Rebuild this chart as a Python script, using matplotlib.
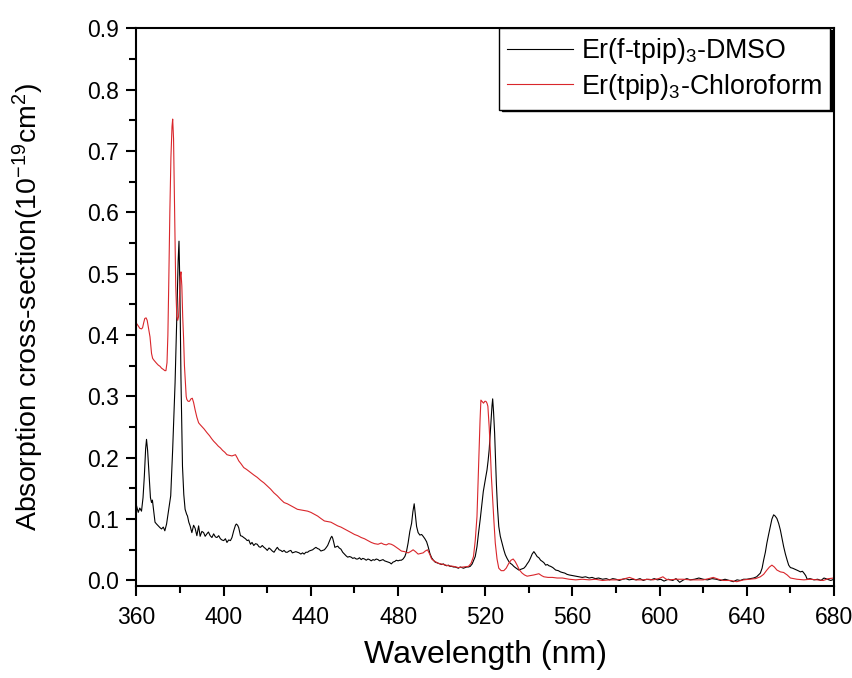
import matplotlib
matplotlib.use("Agg")
import matplotlib.pyplot as plt
from matplotlib.ticker import MultipleLocator

plt.rcParams['font.family'] = ['Liberation Sans', 'DejaVu Sans']
plt.rcParams['mathtext.fontset'] = 'custom'
plt.rcParams['mathtext.rm'] = 'Liberation Sans'
plt.rcParams['mathtext.it'] = 'Liberation Sans:italic'

# ---------------- data ----------------
wl_dmso = [360.0, 360.8, 361.5, 362.3, 363.0, 363.6, 364.2, 364.6, 365.1, 365.8, 366.4, 366.9, 367.3, 367.7,
           368.5, 369.2, 370.0, 370.8, 371.5, 372.3, 373.0, 373.8, 374.6, 375.7, 376.6, 377.7, 378.5, 379.1,
           379.5, 379.9, 380.4, 381.1, 381.7, 382.3, 383.0, 383.4, 384.0, 384.6, 385.4, 386.2, 386.9, 387.7,
           388.5, 389.2, 390.0, 390.8, 391.5, 392.3, 393.0, 393.8, 394.6, 395.4, 396.2, 396.9, 397.7, 398.5,
           399.2, 400.0, 400.8, 401.5, 402.3, 403.1, 403.8, 404.6, 405.4, 405.8, 406.4, 406.9, 407.7, 408.5,
           409.2, 410.0, 410.8, 411.5, 412.3, 413.0, 413.8, 414.6, 415.4, 416.2, 416.9, 417.7, 418.5, 419.2,
           420.0, 420.8, 421.5, 422.3, 423.1, 423.8, 424.6, 425.4, 426.2, 426.9, 427.7, 428.5, 429.2, 430.0,
           430.8, 431.5, 432.3, 433.1, 433.8, 434.6, 435.4, 436.2, 436.9, 437.7, 438.5, 439.2, 440.0, 440.8,
           441.5, 442.3, 443.1, 443.8, 444.6, 445.4, 446.2, 446.9, 447.7, 448.5, 449.2, 449.6, 450.0, 450.5,
           451.0, 451.6, 452.3, 453.0, 453.8, 454.6, 455.4, 456.2, 456.9, 457.7, 458.5, 459.2, 460.0, 460.8,
           461.5, 462.3, 463.1, 463.8, 464.6, 465.4, 466.2, 466.9, 467.7, 468.5, 469.2, 470.0, 470.8, 471.5,
           472.3, 473.1, 473.8, 474.6, 475.4, 476.2, 476.9, 477.7, 478.5, 479.2, 480.0, 480.8, 481.5, 482.3,
           483.1, 483.8, 484.6, 485.4, 486.2, 486.8, 487.4, 487.9, 488.5, 489.2, 490.0, 490.8, 491.5, 492.3,
           493.1, 493.8, 494.6, 495.4, 496.2, 497.0, 497.7, 498.5, 499.2, 500.0, 500.8, 501.5, 502.3, 503.1,
           503.8, 504.6, 505.4, 506.2, 506.9, 507.7, 508.5, 509.2, 510.0, 510.8, 511.5, 512.3, 513.1, 514.0,
           514.6, 515.4, 516.2, 516.9, 517.7, 518.5, 519.1, 519.7, 520.3, 520.8, 521.3, 521.8, 522.3, 522.8,
           523.1, 523.4, 523.8, 524.3, 524.7, 525.1, 525.6, 526.2, 526.9, 527.7, 528.5, 529.2, 530.0, 530.8,
           531.5, 532.3, 533.1, 533.8, 534.6, 535.4, 536.2, 536.9, 537.7, 538.5, 539.2, 540.0, 540.8, 541.5,
           542.3, 543.1, 543.8, 544.6, 545.4, 546.2, 546.9, 547.7, 548.5, 549.2, 550.0, 551.0, 552.3, 553.5,
           554.5, 555.4, 556.5, 557.5, 558.5, 560.0, 561.5, 563.1, 564.5, 566.0, 567.7, 569.0, 570.5, 572.0,
           573.8, 575.5, 577.0, 578.5, 580.0, 581.5, 583.0, 584.5, 586.0, 587.5, 589.2, 591.0, 592.5, 594.0,
           596.0, 597.5, 599.0, 600.5, 602.0, 604.0, 606.0, 607.5, 609.2, 611.0, 612.5, 614.0, 616.0, 618.0,
           620.0, 622.0, 624.0, 626.0, 628.0, 630.0, 632.0, 633.8, 635.5, 637.0, 638.5, 640.0, 641.5, 643.1,
           644.5, 646.2, 647.0, 647.7, 648.5, 649.2, 650.0, 650.8, 651.5, 652.3, 653.0, 653.8, 654.6, 655.4,
           656.2, 656.9, 657.7, 658.5, 659.2, 660.0, 661.0, 662.3, 663.5, 664.6, 665.5, 666.2, 667.0, 667.7,
           669.0, 670.8, 672.5, 674.0, 675.4, 677.0, 678.5, 680.0]
ab_dmso = [0.122, 0.111, 0.118, 0.113, 0.135, 0.170, 0.215, 0.230, 0.212, 0.170, 0.135, 0.127, 0.131, 0.119,
           0.095, 0.092, 0.089, 0.086, 0.084, 0.087, 0.081, 0.092, 0.111, 0.138, 0.214, 0.322, 0.430, 0.520,
           0.553, 0.480, 0.330, 0.186, 0.140, 0.116, 0.108, 0.105, 0.095, 0.089, 0.078, 0.090, 0.085, 0.073,
           0.089, 0.072, 0.080, 0.078, 0.072, 0.076, 0.079, 0.073, 0.070, 0.076, 0.071, 0.070, 0.073, 0.068,
           0.066, 0.065, 0.068, 0.062, 0.066, 0.065, 0.070, 0.081, 0.090, 0.092, 0.090, 0.086, 0.073, 0.072,
           0.070, 0.068, 0.065, 0.066, 0.059, 0.062, 0.057, 0.060, 0.059, 0.055, 0.054, 0.057, 0.054, 0.052,
           0.049, 0.053, 0.051, 0.048, 0.046, 0.050, 0.054, 0.050, 0.049, 0.047, 0.049, 0.046, 0.046, 0.048,
           0.049, 0.045, 0.046, 0.047, 0.046, 0.045, 0.043, 0.045, 0.043, 0.046, 0.046, 0.048, 0.049, 0.050,
           0.052, 0.054, 0.052, 0.051, 0.048, 0.049, 0.050, 0.053, 0.057, 0.064, 0.070, 0.072, 0.069, 0.062,
           0.054, 0.055, 0.056, 0.053, 0.051, 0.046, 0.043, 0.040, 0.038, 0.039, 0.038, 0.036, 0.037, 0.035,
           0.035, 0.037, 0.034, 0.036, 0.035, 0.033, 0.035, 0.034, 0.032, 0.034, 0.033, 0.035, 0.034, 0.032,
           0.033, 0.034, 0.032, 0.031, 0.030, 0.029, 0.027, 0.030, 0.031, 0.033, 0.032, 0.033, 0.033, 0.035,
           0.039, 0.046, 0.061, 0.080, 0.093, 0.112, 0.125, 0.108, 0.088, 0.078, 0.074, 0.075, 0.072, 0.068,
           0.063, 0.055, 0.044, 0.037, 0.033, 0.030, 0.029, 0.028, 0.027, 0.026, 0.027, 0.025, 0.024, 0.025,
           0.023, 0.023, 0.022, 0.022, 0.021, 0.020, 0.022, 0.021, 0.020, 0.021, 0.022, 0.022, 0.023, 0.027,
           0.032, 0.039, 0.055, 0.077, 0.100, 0.126, 0.145, 0.158, 0.170, 0.180, 0.195, 0.213, 0.240, 0.267,
           0.285, 0.296, 0.275, 0.240, 0.200, 0.158, 0.120, 0.088, 0.072, 0.061, 0.050, 0.042, 0.036, 0.031,
           0.028, 0.026, 0.023, 0.021, 0.019, 0.017, 0.018, 0.019, 0.020, 0.023, 0.027, 0.031, 0.037, 0.043,
           0.047, 0.043, 0.039, 0.037, 0.033, 0.031, 0.029, 0.025, 0.026, 0.024, 0.023, 0.021, 0.017, 0.016,
           0.014, 0.013, 0.012, 0.010, 0.009, 0.008, 0.007, 0.006, 0.005, 0.006, 0.004, 0.005, 0.003, 0.004,
           0.002, 0.003, 0.001, 0.003, 0.002, 0.000, 0.002, 0.003, 0.001, 0.002, 0.001, 0.003, 0.000, 0.002,
           0.001, 0.003, 0.001, 0.002, -0.001, 0.002, 0.000, 0.003, -0.003, 0.001, 0.003, 0.001, 0.002, 0.004,
           0.002, 0.001, 0.003, 0.002, 0.000, 0.002, 0.000, -0.002, 0.001, 0.000, 0.002, 0.002, 0.003, 0.004,
           0.006, 0.012, 0.020, 0.033, 0.046, 0.061, 0.075, 0.088, 0.100, 0.107, 0.105, 0.101, 0.093, 0.082,
           0.068, 0.055, 0.043, 0.033, 0.025, 0.021, 0.020, 0.018, 0.016, 0.014, 0.015, 0.012, 0.008, 0.002,
           0.003, 0.001, 0.002, 0.000, 0.004, 0.002, 0.000, 0.002]

wl_chcl3 = [360.0, 360.8, 361.5, 362.3, 362.8, 363.3, 363.8, 364.4, 364.9, 365.5, 366.2, 366.9, 367.4, 368.0,
            369.2, 370.0, 370.8, 371.5, 372.3, 373.0, 373.5, 374.0, 374.4, 374.8, 375.3, 375.8, 376.3, 376.6,
            377.0, 377.5, 378.0, 378.5, 378.9, 379.3, 379.7, 380.1, 380.4, 380.8, 381.2, 381.6, 382.0, 382.4,
            382.8, 383.1, 383.7, 384.3, 385.0, 385.6, 386.2, 386.9, 387.7, 388.5, 389.2, 390.0, 391.0, 392.3,
            393.5, 394.5, 395.4, 396.5, 397.5, 398.5, 399.5, 400.5, 401.5, 402.5, 403.8, 404.6, 405.4, 406.2,
            406.9, 408.0, 409.2, 410.5, 412.3, 413.8, 415.4, 417.0, 418.5, 420.0, 421.5, 423.0, 424.6, 426.2,
            427.7, 429.2, 430.8, 432.3, 433.8, 435.4, 436.9, 438.5, 440.0, 441.5, 443.1, 444.6, 446.2, 447.7,
            449.2, 450.8, 452.3, 453.8, 455.4, 456.9, 458.5, 460.0, 461.5, 463.1, 464.6, 466.2, 467.7, 469.2,
            470.8, 471.5, 472.3, 473.4, 474.6, 475.7, 476.9, 478.0, 479.2, 480.4, 481.5, 483.0, 484.6, 485.7,
            486.9, 488.0, 489.2, 490.3, 491.5, 492.5, 493.5, 494.5, 495.4, 496.9, 498.5, 500.8, 503.1, 505.4,
            507.7, 510.0, 512.3, 513.5, 514.6, 515.4, 516.2, 516.7, 517.2, 517.6, 518.0, 518.5, 519.2, 519.8,
            520.3, 520.8, 521.2, 521.8, 522.3, 522.8, 523.4, 524.0, 524.6, 525.4, 526.2, 527.3, 528.5, 529.6,
            530.8, 531.8, 532.8, 533.7, 534.6, 535.7, 536.9, 538.0, 539.2, 540.8, 542.3, 543.5, 544.6, 545.8,
            546.9, 548.8, 550.8, 553.0, 555.4, 558.5, 561.5, 564.5, 567.7, 570.5, 573.8, 577.0, 580.0, 583.0,
            586.2, 589.2, 592.3, 595.0, 596.9, 599.5, 601.5, 603.0, 604.6, 607.5, 610.8, 614.0, 617.0, 620.0,
            622.5, 624.6, 627.0, 629.2, 632.5, 635.4, 638.5, 641.5, 644.0, 646.2, 647.7, 649.2, 650.4, 651.5,
            652.6, 653.8, 655.4, 656.9, 658.5, 660.0, 663.0, 666.2, 669.0, 672.3, 675.0, 677.5, 680.0]
ab_chcl3 = [0.419, 0.415, 0.411, 0.410, 0.412, 0.420, 0.427, 0.428, 0.424, 0.412, 0.397, 0.370, 0.362, 0.359,
            0.354, 0.351, 0.349, 0.346, 0.344, 0.342, 0.342, 0.355, 0.400, 0.484, 0.600, 0.690, 0.740, 0.752,
            0.720, 0.600, 0.480, 0.430, 0.424, 0.430, 0.460, 0.495, 0.503, 0.480, 0.430, 0.395, 0.350, 0.325,
            0.300, 0.295, 0.292, 0.292, 0.296, 0.297, 0.290, 0.278, 0.266, 0.257, 0.254, 0.251, 0.247, 0.241,
            0.236, 0.231, 0.227, 0.223, 0.219, 0.216, 0.212, 0.209, 0.205, 0.204, 0.203, 0.204, 0.205, 0.200,
            0.195, 0.190, 0.184, 0.181, 0.176, 0.172, 0.168, 0.163, 0.159, 0.154, 0.149, 0.143, 0.138, 0.132,
            0.127, 0.125, 0.122, 0.119, 0.116, 0.115, 0.114, 0.113, 0.111, 0.108, 0.105, 0.101, 0.097, 0.096,
            0.095, 0.092, 0.089, 0.087, 0.084, 0.081, 0.078, 0.075, 0.073, 0.070, 0.068, 0.065, 0.062, 0.060,
            0.059, 0.060, 0.061, 0.059, 0.058, 0.060, 0.059, 0.057, 0.054, 0.051, 0.048, 0.047, 0.045, 0.047,
            0.050, 0.047, 0.043, 0.044, 0.045, 0.048, 0.050, 0.043, 0.035, 0.031, 0.028, 0.026, 0.024, 0.023,
            0.021, 0.022, 0.023, 0.028, 0.039, 0.065, 0.104, 0.160, 0.213, 0.260, 0.294, 0.292, 0.289, 0.292,
            0.292, 0.289, 0.284, 0.250, 0.213, 0.170, 0.131, 0.095, 0.061, 0.035, 0.020, 0.016, 0.016, 0.020,
            0.028, 0.033, 0.035, 0.031, 0.025, 0.017, 0.012, 0.009, 0.007, 0.008, 0.009, 0.010, 0.011, 0.008,
            0.006, 0.005, 0.005, 0.004, 0.004, 0.002, 0.001, 0.002, 0.001, 0.002, 0.000, 0.001, 0.001, 0.002,
            0.005, 0.001, 0.001, 0.002, 0.001, 0.003, 0.006, 0.002, 0.001, 0.002, 0.002, 0.001, 0.001, 0.001,
            0.003, 0.005, 0.002, 0.000, 0.000, -0.002, 0.001, 0.002, 0.003, 0.006, 0.010, 0.017, 0.022, 0.025,
            0.022, 0.017, 0.014, 0.013, 0.009, 0.004, 0.002, 0.001, 0.002, 0.001, 0.000, 0.003, 0.004]

label_dmso = r'Er(f-tpip)$_\mathregular{3}$-DMSO'
label_chcl3 = r'Er(tpip)$_\mathregular{3}$-Chloroform'
x_ticks = [360, 400, 440, 480, 520, 560, 600, 640, 680]
y_ticks = [0.0, 0.1, 0.2, 0.3, 0.4, 0.5, 0.6, 0.7, 0.8, 0.9]

# ---------------- figure ----------------
fig = plt.figure(figsize=(8.52, 6.78), dpi=100)
ax = fig.add_axes([0.1602, 0.1357, 0.8187, 0.8226])

ax.plot(wl_dmso, ab_dmso, color='black', lw=0.8, label=label_dmso)
ax.plot(wl_chcl3, ab_chcl3, color='#d9262b', lw=0.8, label=label_chcl3)

ax.set_xlim(360, 680)
ax.set_ylim(-0.009, 0.9)
ax.set_xticks(x_ticks)
ax.set_yticks(y_ticks)
ax.set_yticklabels([f'{v:.1f}' for v in y_ticks])
ax.xaxis.set_minor_locator(MultipleLocator(20))
ax.yaxis.set_minor_locator(MultipleLocator(0.05))

for s in ax.spines.values():
    s.set_linewidth(1.5)
ax.tick_params(which='major', direction='out', length=7.5, width=1.5, labelsize=16.5,
               top=False, right=False)
ax.tick_params(axis='x', which='major', pad=7)
ax.tick_params(axis='y', which='major', pad=5)
ax.tick_params(which='minor', direction='out', length=5, width=1.5, top=False, right=False)

ax.set_xlabel('Wavelength (nm)', fontsize=23)
ax.set_ylabel(r'Absorption cross-section(10$^\mathregular{-19}$cm$^\mathregular{2}$)', fontsize=20.5)
ax.xaxis.set_label_coords(0.5, -0.097)
ax.yaxis.set_label_coords(-0.1297, 0.5)

leg = ax.legend(loc='upper right', bbox_to_anchor=(0.9943, 1.0), borderaxespad=0, fontsize=19.3,
                frameon=True, fancybox=False, edgecolor='black', handlelength=2.45, handletextpad=0.32,
                borderpad=0.3, labelspacing=0.2,
                shadow={'facecolor': 'black', 'edgecolor': 'black', 'alpha': 1, 'ox': 2, 'oy': -1})
leg.get_frame().set_linewidth(1.0)
leg.get_frame().set_alpha(1)

fig.savefig('out.png', dpi=100)
